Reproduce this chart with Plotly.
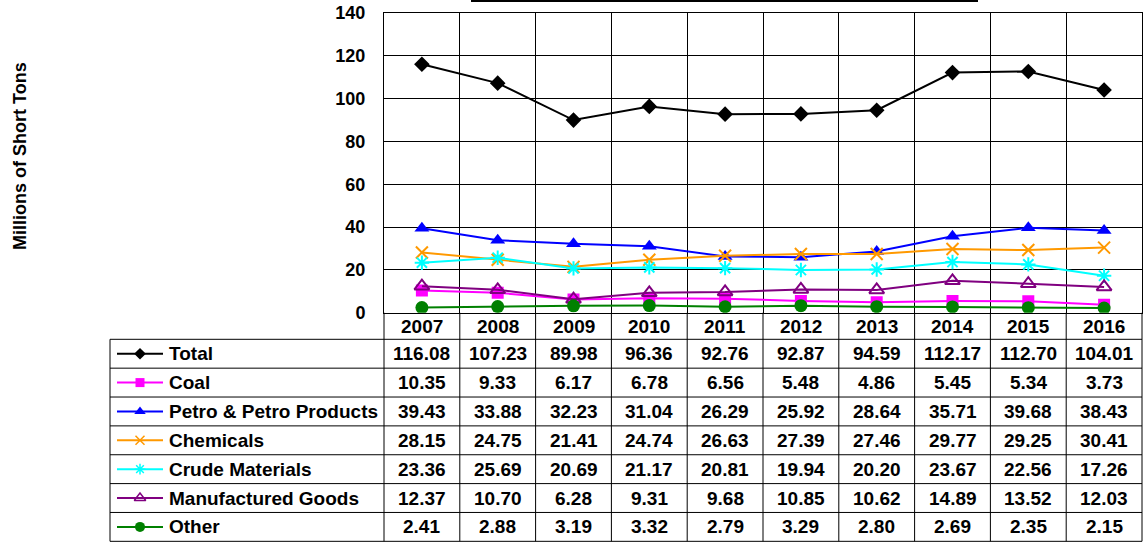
import plotly.graph_objects as go

# ======================================================
# Data
# ======================================================
years = ["2007", "2008", "2009", "2010", "2011", "2012", "2013", "2014", "2015", "2016"]

total = [116.08, 107.23, 89.98, 96.36, 92.76, 92.87, 94.59, 112.17, 112.70, 104.01]
coal = [10.35, 9.33, 6.17, 6.78, 6.56, 5.48, 4.86, 5.45, 5.34, 3.73]
petro = [39.43, 33.88, 32.23, 31.04, 26.29, 25.92, 28.64, 35.71, 39.68, 38.43]
chemicals = [28.15, 24.75, 21.41, 24.74, 26.63, 27.39, 27.46, 29.77, 29.25, 30.41]
crude = [23.36, 25.69, 20.69, 21.17, 20.81, 19.94, 20.20, 23.67, 22.56, 17.26]
manufactured = [12.37, 10.70, 6.28, 9.31, 9.68, 10.85, 10.62, 14.89, 13.52, 12.03]
other = [2.41, 2.88, 3.19, 3.32, 2.79, 3.29, 2.80, 2.69, 2.35, 2.15]

series_names = ["Total", "Coal", "Petro & Petro Products", "Chemicals",
                "Crude Materials", "Manufactured Goods", "Other"]
series_values = [total, coal, petro, chemicals, crude, manufactured, other]

# ======================================================
# Styles
# ======================================================
W, H = 1144, 545
FONT = "Arial, Liberation Sans, sans-serif"

styles = [
    dict(color="#000000", symbol="diamond", size=12, open=False),
    dict(color="#FF00FF", symbol="square", size=12, open=False),
    dict(color="#0000FF", symbol="triangle-up", size=13, open=False),
    dict(color="#FF9900", symbol="x-thin-open", size=12, open=True),
    dict(color="#00FFFF", symbol="asterisk-open", size=12, open=True),
    dict(color="#800080", symbol="triangle-up-open", size=13, open=True),
    dict(color="#008000", symbol="circle", size=13, open=False),
]

# pixel geometry
PL, PR, PT, PB = 384, 1142, 13, 312.7
TAB_L, TAB_T, ROW_H = 110, 339.3, 28.86
COL_W = (PR - PL) / len(years)


def px(x):
    return x / W


def py(y):
    return 1 - y / H


fig = go.Figure()

# ======================================================
# Lines
# ======================================================
for name, vals, st in zip(series_names, series_values, styles):
    fig.add_trace(go.Scatter(
        x=years, y=vals, mode="lines+markers", name=name,
        line=dict(color=st["color"], width=2),
        marker=dict(symbol=st["symbol"], size=st["size"], color=st["color"],
                    line=dict(color=st["color"], width=2 if st["open"] else 0)),
        showlegend=False,
    ))

# ======================================================
# Legend keys in the data table (pixel-space axis)
# ======================================================
for i, st in enumerate(styles):
    yc = TAB_T + ROW_H * (i + 0.5)
    fig.add_trace(go.Scatter(
        x=[117, 163], y=[yc, yc], mode="lines", xaxis="x2", yaxis="y2",
        line=dict(color=st["color"], width=2), showlegend=False, hoverinfo="skip",
    ))
    fig.add_trace(go.Scatter(
        x=[140], y=[yc], mode="markers", xaxis="x2", yaxis="y2",
        marker=dict(symbol=st["symbol"], size=st["size"] - 3, color=st["color"],
                    line=dict(color=st["color"], width=1.5 if st["open"] else 0)),
        showlegend=False, hoverinfo="skip",
    ))

# ======================================================
# Table grid
# ======================================================
shapes = []
line_k = dict(color="black", width=1)
n_rows = len(series_names)
TAB_B = TAB_T + ROW_H * n_rows
for j in range(len(years) + 1):
    xx = PL + COL_W * j
    shapes.append(dict(type="line", xref="paper", yref="paper",
                       x0=px(xx), x1=px(xx), y0=py(PB), y1=py(TAB_B), line=line_k))
shapes.append(dict(type="line", xref="paper", yref="paper",
                   x0=px(TAB_L), x1=px(TAB_L), y0=py(TAB_T), y1=py(TAB_B), line=line_k))
for i in range(n_rows + 1):
    yy = TAB_T + ROW_H * i
    shapes.append(dict(type="line", xref="paper", yref="paper",
                       x0=px(TAB_L), x1=px(PR), y0=py(yy), y1=py(yy), line=line_k))
# remnant of the clipped title box
shapes.append(dict(type="line", xref="paper", yref="paper",
                   x0=px(471), x1=px(978), y0=py(1), y1=py(1),
                   line=dict(color="black", width=2)))

annotations = []
tfont = dict(family=FONT, size=19, color="black", weight="bold")
for j, yr in enumerate(years):
    annotations.append(dict(text=yr, x=px(PL + COL_W * (j + 0.5)), y=py((PB + TAB_T) / 2),
                            xref="paper", yref="paper", showarrow=False,
                            xanchor="center", yanchor="middle", font=tfont))
for i, (name, vals) in enumerate(zip(series_names, series_values)):
    yc = py(TAB_T + ROW_H * (i + 0.5))
    annotations.append(dict(text=name, x=px(167), y=yc, xref="paper", yref="paper",
                            showarrow=False, xanchor="left", yanchor="middle", font=tfont))
    for j, v in enumerate(vals):
        annotations.append(dict(text=f"{v:.2f}", x=px(PL + COL_W * (j + 0.5)), y=yc,
                                xref="paper", yref="paper", showarrow=False,
                                xanchor="center", yanchor="middle", font=tfont))

annotations.append(dict(text="Millions of Short Tons", x=px(20), y=py(156),
                        xref="paper", yref="paper", showarrow=False, textangle=-90,
                        xanchor="center", yanchor="middle",
                        font=dict(family=FONT, size=18, color="black", weight="bold")))

# ======================================================
# Layout
# ======================================================
fig.update_layout(
    width=W, height=H,
    margin=dict(l=0, r=0, t=0, b=0, pad=0, autoexpand=False),
    paper_bgcolor="white", plot_bgcolor="rgba(0,0,0,0)",
    xaxis=dict(domain=[px(PL), px(PR)], type="category", range=[-0.5, 9.5],
               showgrid=True, gridcolor="black", gridwidth=1, tickson="boundaries",
               showticklabels=False, ticks="", showline=True, linecolor="black",
               linewidth=1, mirror=True, zeroline=False, fixedrange=True,
               automargin=False),
    yaxis=dict(domain=[py(PB), py(PT)], range=[0, 140], dtick=20,
               showgrid=True, gridcolor="black", gridwidth=1, ticks="",
               ticklabelstandoff=14, showline=True, linecolor="black", linewidth=1,
               mirror=True, zeroline=False, automargin=False,
               tickfont=dict(family=FONT, size=18, color="black", weight="bold")),
    xaxis2=dict(domain=[0, 1], range=[0, W], visible=False, fixedrange=True,
                automargin=False),
    yaxis2=dict(domain=[0, 1], range=[H, 0], visible=False, anchor="x2",
                fixedrange=True, automargin=False),
    shapes=shapes,
    annotations=annotations,
    showlegend=False,
)

fig.write_html("out.html", config={"displayModeBar": False},
               post_script="document.body.style.margin='0px';")
